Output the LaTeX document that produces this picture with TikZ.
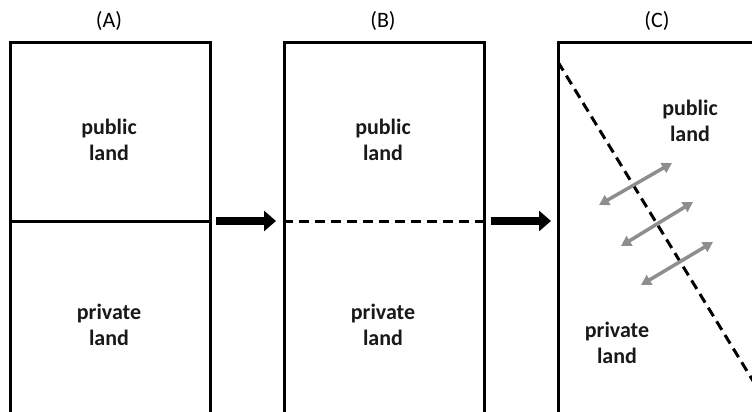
\documentclass[tikz,border=0pt]{standalone}
\usepackage{fontspec}
\setmainfont{Carlito}
\usetikzlibrary{arrows.meta}
\definecolor{arrowgray}{HTML}{8E8E8E}
\tikzset{
  panel/.style={draw=black, line width=3pt, minimum width=200pt, minimum height=400pt, anchor=north west, inner sep=0pt},
  lbl/.style={font=\bfseries\fontsize{22}{26}\selectfont, align=center, text=black!90},
  title/.style={font=\fontsize{22}{26}\selectfont},
  bigarrow/.style={line width=8pt, -{Triangle[length=12pt,width=20pt]}},
  flow/.style={line width=3.5pt, arrowgray, {Triangle[length=10pt,width=11pt]}-{Triangle[length=10pt,width=11pt]}},
  border/.style={line width=3pt, dashed, dash pattern=on 10pt off 6pt}
}
\begin{document}
\begin{tikzpicture}[x=1pt,y=-1pt]
\useasboundingbox (0,0) rectangle (752,412);
\clip (0,0) rectangle (752,412);
% titles
\node[title] (tA) at (109,21) {(A)};
\node[title] (tB) at (383,21) {(B)};
\node[title] (tC) at (657,21) {(C)};
% panels
\node[panel] (A) at (9,41) {};
\node[panel] (B) at (283,41) {};
\node[panel] (C) at (557,41) {};
% panel A
\coordinate (Al) at (9,221);
\coordinate (Ar) at (209,221);
\draw[line width=3pt] (Al) -- (Ar);
\node[lbl] (Apub) at (109,140) {public\\land};
\node[lbl] (Apriv) at (109,325) {private\\land};
% panel B
\coordinate (Bl) at (283,221);
\coordinate (Br) at (483,221);
\draw[border] (Bl) -- (Br);
\node[lbl] (Bpub) at (383,140) {public\\land};
\node[lbl] (Bpriv) at (383,325) {private\\land};
% big arrows
\draw[bigarrow] (216,221) -- (276,221);
\draw[bigarrow] (491,221) -- (551,221);
% panel C
\coordinate (Ct) at (558,62);
\coordinate (Cb) at (758,389);
\draw[border] (Ct) -- (Cb);
\node[lbl] (Cpub) at (690,121) {public\\land};
\node[lbl] (Cpriv) at (617,343) {private\\land};
\coordinate (f1a) at (599,205); \coordinate (f1b) at (672,163);
\coordinate (f2a) at (621,246); \coordinate (f2b) at (693,202);
\coordinate (f3a) at (641,285); \coordinate (f3b) at (713,242);
\draw[flow] (f1a) -- (f1b);
\draw[flow] (f2a) -- (f2b);
\draw[flow] (f3a) -- (f3b);
\end{tikzpicture}
\end{document}
